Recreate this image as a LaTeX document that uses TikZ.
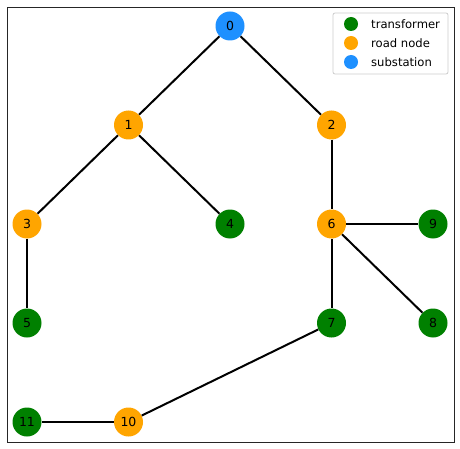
\documentclass[tikz,border=0pt]{standalone}
\usepackage{fontspec}
\setmainfont{DejaVu Sans}
\begin{document}
\begin{tikzpicture}[x=1pt,y=-1pt,
  vertex/.style={circle,minimum size=29pt,inner sep=0pt,font=\fontsize{12.5}{12.5}\selectfont},
  transformer/.style={vertex,fill={rgb,255:red,0;green,128;blue,0}},
  roadnode/.style={vertex,fill={rgb,255:red,255;green,165;blue,0}},
  substation/.style={vertex,fill={rgb,255:red,30;green,144;blue,255}},
  link/.style={line width=2pt,black},
  keydot/.style={circle,minimum size=14pt,inner sep=0pt},
  keytext/.style={anchor=west,inner sep=0pt,font=\fontsize{11.6}{12}\selectfont}]
\useasboundingbox (0,0) rectangle (460,449);
\fill[white] (0,0) rectangle (460,449);
% axes frame
\draw[line width=0.9pt,black!85] (7,7) rectangle (454.5,442);
% nodes on a grid (x step 101.5, y step 99)
\node[substation] (n0) at (230,26) {0};
\node[roadnode] (n1) at (128.5,125) {1};
\node[roadnode] (n2) at (331.5,125) {2};
\node[roadnode] (n3) at (27,224) {3};
\node[transformer] (n4) at (230,224) {4};
\node[roadnode] (n6) at (331.5,224) {6};
\node[transformer] (n9) at (433,224) {9};
\node[transformer] (n5) at (27,323) {5};
\node[transformer] (n7) at (331.5,323) {7};
\node[transformer] (n8) at (433,323) {8};
\node[transformer] (n11) at (27,422) {11};
\node[roadnode] (n10) at (128.5,422) {10};
% edges
\draw[link] (n0) -- (n1);
\draw[link] (n0) -- (n2);
\draw[link] (n1) -- (n3);
\draw[link] (n1) -- (n4);
\draw[link] (n2) -- (n6);
\draw[link] (n3) -- (n5);
\draw[link] (n6) -- (n9);
\draw[link] (n6) -- (n7);
\draw[link] (n6) -- (n8);
\draw[link] (n7) -- (n10);
\draw[link] (n10) -- (n11);
% legend
\draw[fill=white,draw={rgb,255:red,204;green,204;blue,204},line width=0.8pt,rounded corners=2pt] (333,13) rectangle (448,74);
\node[keydot,fill={rgb,255:red,0;green,128;blue,0}] (k1) at (351,24) {};
\node[keydot,fill={rgb,255:red,255;green,165;blue,0}] (k2) at (351,43) {};
\node[keydot,fill={rgb,255:red,30;green,144;blue,255}] (k3) at (351,62) {};
\node[keytext] (t1) at (371,24) {transformer};
\node[keytext] (t2) at (371,43) {road node};
\node[keytext] (t3) at (371,62) {substation};
\end{tikzpicture}
\end{document}
